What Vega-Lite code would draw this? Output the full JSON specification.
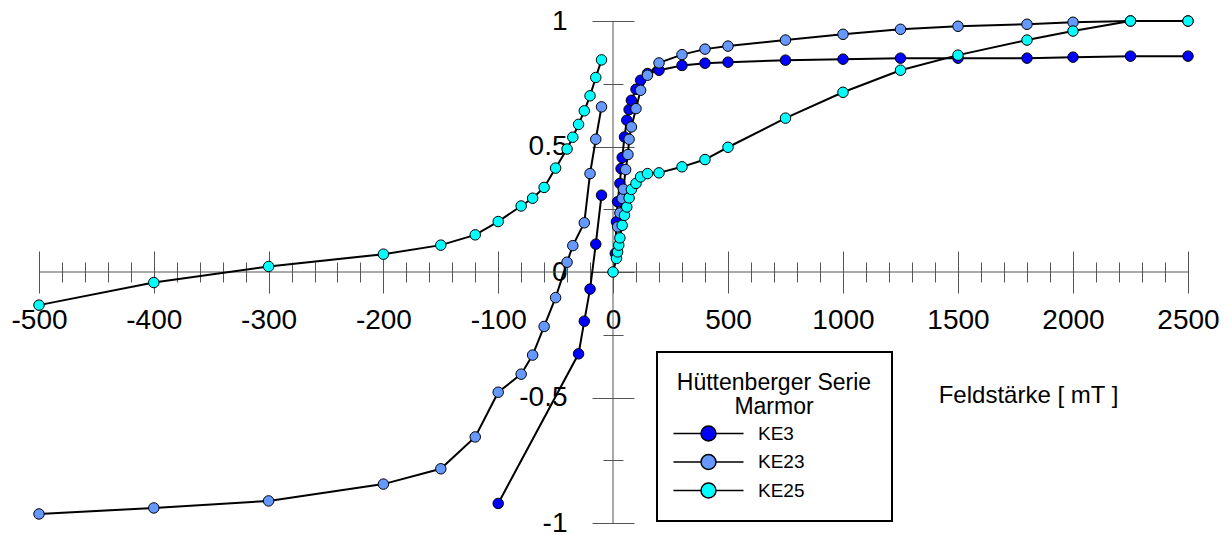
{
  "$schema": "https://vega.github.io/schema/vega-lite/v6.json",
  "width": 1149,
  "height": 502,
  "autosize": {"type": "none"},
  "padding": {"left": 39, "top": 21, "right": 43, "bottom": 12},
  "background": "white",
  "config": {"view": {"stroke": null}, "font": "Liberation Sans", "legend": {"strokeWidth": 2}},
  "data": {"values": [
    {"serie":"KE3","zweig":"neg","B":-10,"M":0.306},
    {"serie":"KE3","zweig":"neg","B":-15,"M":0.111},
    {"serie":"KE3","zweig":"neg","B":-20,"M":-0.068},
    {"serie":"KE3","zweig":"neg","B":-25,"M":-0.196},
    {"serie":"KE3","zweig":"neg","B":-30,"M":-0.326},
    {"serie":"KE3","zweig":"neg","B":-100,"M":-0.922},
    {"serie":"KE3","zweig":"pos","B":10,"M":0.074},
    {"serie":"KE3","zweig":"pos","B":15,"M":0.2},
    {"serie":"KE3","zweig":"pos","B":20,"M":0.28},
    {"serie":"KE3","zweig":"pos","B":30,"M":0.353},
    {"serie":"KE3","zweig":"pos","B":35,"M":0.412},
    {"serie":"KE3","zweig":"pos","B":40,"M":0.456},
    {"serie":"KE3","zweig":"pos","B":50,"M":0.538},
    {"serie":"KE3","zweig":"pos","B":60,"M":0.605},
    {"serie":"KE3","zweig":"pos","B":70,"M":0.647},
    {"serie":"KE3","zweig":"pos","B":80,"M":0.684},
    {"serie":"KE3","zweig":"pos","B":100,"M":0.728},
    {"serie":"KE3","zweig":"pos","B":120,"M":0.764},
    {"serie":"KE3","zweig":"pos","B":150,"M":0.791},
    {"serie":"KE3","zweig":"pos","B":200,"M":0.804},
    {"serie":"KE3","zweig":"pos","B":300,"M":0.823},
    {"serie":"KE3","zweig":"pos","B":400,"M":0.832},
    {"serie":"KE3","zweig":"pos","B":500,"M":0.836},
    {"serie":"KE3","zweig":"pos","B":750,"M":0.844},
    {"serie":"KE3","zweig":"pos","B":1000,"M":0.848},
    {"serie":"KE3","zweig":"pos","B":1250,"M":0.852},
    {"serie":"KE3","zweig":"pos","B":1500,"M":0.852},
    {"serie":"KE3","zweig":"pos","B":1800,"M":0.852},
    {"serie":"KE3","zweig":"pos","B":2000,"M":0.856},
    {"serie":"KE3","zweig":"pos","B":2250,"M":0.86},
    {"serie":"KE3","zweig":"pos","B":2500,"M":0.86},
    {"serie":"KE23","zweig":"neg","B":-10,"M":0.658},
    {"serie":"KE23","zweig":"neg","B":-15,"M":0.529},
    {"serie":"KE23","zweig":"neg","B":-20,"M":0.392},
    {"serie":"KE23","zweig":"neg","B":-25,"M":0.196},
    {"serie":"KE23","zweig":"neg","B":-35,"M":0.105},
    {"serie":"KE23","zweig":"neg","B":-40,"M":0.039},
    {"serie":"KE23","zweig":"neg","B":-50,"M":-0.102},
    {"serie":"KE23","zweig":"neg","B":-60,"M":-0.217},
    {"serie":"KE23","zweig":"neg","B":-70,"M":-0.331},
    {"serie":"KE23","zweig":"neg","B":-80,"M":-0.407},
    {"serie":"KE23","zweig":"neg","B":-100,"M":-0.479},
    {"serie":"KE23","zweig":"neg","B":-120,"M":-0.657},
    {"serie":"KE23","zweig":"neg","B":-150,"M":-0.784},
    {"serie":"KE23","zweig":"neg","B":-200,"M":-0.845},
    {"serie":"KE23","zweig":"neg","B":-300,"M":-0.912},
    {"serie":"KE23","zweig":"neg","B":-400,"M":-0.94},
    {"serie":"KE23","zweig":"neg","B":-500,"M":-0.964},
    {"serie":"KE23","zweig":"pos","B":20,"M":0.18},
    {"serie":"KE23","zweig":"pos","B":30,"M":0.235},
    {"serie":"KE23","zweig":"pos","B":40,"M":0.293},
    {"serie":"KE23","zweig":"pos","B":45,"M":0.33},
    {"serie":"KE23","zweig":"pos","B":55,"M":0.408},
    {"serie":"KE23","zweig":"pos","B":65,"M":0.468},
    {"serie":"KE23","zweig":"pos","B":70,"M":0.529},
    {"serie":"KE23","zweig":"pos","B":80,"M":0.578},
    {"serie":"KE23","zweig":"pos","B":100,"M":0.651},
    {"serie":"KE23","zweig":"pos","B":120,"M":0.724},
    {"serie":"KE23","zweig":"pos","B":150,"M":0.784},
    {"serie":"KE23","zweig":"pos","B":200,"M":0.833},
    {"serie":"KE23","zweig":"pos","B":300,"M":0.866},
    {"serie":"KE23","zweig":"pos","B":400,"M":0.888},
    {"serie":"KE23","zweig":"pos","B":500,"M":0.9},
    {"serie":"KE23","zweig":"pos","B":750,"M":0.924},
    {"serie":"KE23","zweig":"pos","B":1000,"M":0.947},
    {"serie":"KE23","zweig":"pos","B":1250,"M":0.967},
    {"serie":"KE23","zweig":"pos","B":1500,"M":0.979},
    {"serie":"KE23","zweig":"pos","B":1800,"M":0.987},
    {"serie":"KE23","zweig":"pos","B":2000,"M":0.995},
    {"serie":"KE23","zweig":"pos","B":2250,"M":1.0},
    {"serie":"KE23","zweig":"pos","B":2500,"M":1.0},
    {"serie":"KE25","zweig":"neg","B":-10,"M":0.845},
    {"serie":"KE25","zweig":"neg","B":-15,"M":0.775},
    {"serie":"KE25","zweig":"neg","B":-20,"M":0.702},
    {"serie":"KE25","zweig":"neg","B":-25,"M":0.642},
    {"serie":"KE25","zweig":"neg","B":-30,"M":0.588},
    {"serie":"KE25","zweig":"neg","B":-35,"M":0.537},
    {"serie":"KE25","zweig":"neg","B":-40,"M":0.49},
    {"serie":"KE25","zweig":"neg","B":-50,"M":0.414},
    {"serie":"KE25","zweig":"neg","B":-60,"M":0.337},
    {"serie":"KE25","zweig":"neg","B":-70,"M":0.294},
    {"serie":"KE25","zweig":"neg","B":-80,"M":0.263},
    {"serie":"KE25","zweig":"neg","B":-100,"M":0.201},
    {"serie":"KE25","zweig":"neg","B":-120,"M":0.148},
    {"serie":"KE25","zweig":"neg","B":-150,"M":0.107},
    {"serie":"KE25","zweig":"neg","B":-200,"M":0.071},
    {"serie":"KE25","zweig":"neg","B":-300,"M":0.022},
    {"serie":"KE25","zweig":"neg","B":-400,"M":-0.042},
    {"serie":"KE25","zweig":"neg","B":-500,"M":-0.132},
    {"serie":"KE25","zweig":"pos","B":0,"M":0.0},
    {"serie":"KE25","zweig":"pos","B":15,"M":0.054},
    {"serie":"KE25","zweig":"pos","B":20,"M":0.08},
    {"serie":"KE25","zweig":"pos","B":25,"M":0.107},
    {"serie":"KE25","zweig":"pos","B":30,"M":0.136},
    {"serie":"KE25","zweig":"pos","B":40,"M":0.186},
    {"serie":"KE25","zweig":"pos","B":50,"M":0.226},
    {"serie":"KE25","zweig":"pos","B":60,"M":0.259},
    {"serie":"KE25","zweig":"pos","B":70,"M":0.295},
    {"serie":"KE25","zweig":"pos","B":80,"M":0.329},
    {"serie":"KE25","zweig":"pos","B":100,"M":0.353},
    {"serie":"KE25","zweig":"pos","B":120,"M":0.379},
    {"serie":"KE25","zweig":"pos","B":150,"M":0.392},
    {"serie":"KE25","zweig":"pos","B":200,"M":0.395},
    {"serie":"KE25","zweig":"pos","B":300,"M":0.419},
    {"serie":"KE25","zweig":"pos","B":400,"M":0.448},
    {"serie":"KE25","zweig":"pos","B":500,"M":0.497},
    {"serie":"KE25","zweig":"pos","B":750,"M":0.613},
    {"serie":"KE25","zweig":"pos","B":1000,"M":0.716},
    {"serie":"KE25","zweig":"pos","B":1250,"M":0.804},
    {"serie":"KE25","zweig":"pos","B":1500,"M":0.864},
    {"serie":"KE25","zweig":"pos","B":1800,"M":0.924},
    {"serie":"KE25","zweig":"pos","B":2000,"M":0.96},
    {"serie":"KE25","zweig":"pos","B":2250,"M":1.0},
    {"serie":"KE25","zweig":"pos","B":2500,"M":1.0}
  ]},
  "layer": [
    {
      "data": {"values": [{}]},
      "mark": {"type": "rule", "stroke": "#555555", "strokeWidth": 1},
      "encoding": {
        "y": {"datum": 0, "type": "quantitative", "scale": {"domain": [-1, 1], "nice": false, "zero": false}, "axis": null}
      }
    },
    {
      "data": {"values": [{}]},
      "mark": {"type": "rule", "stroke": "#555555", "strokeWidth": 1},
      "encoding": {
        "x": {"datum": 0, "type": "quantitative", "scale": {"type": "linear", "domain": [-500, 0, 2500], "range": [0, 574, 1149], "nice": false, "zero": false}, "axis": null}
      }
    },
    {
      "mark": {"type": "line", "stroke": "black", "strokeWidth": 2, "clip": false},
      "encoding": {
        "x": {"field": "B", "type": "quantitative",
          "scale": {"type": "linear", "domain": [-500, 0, 2500], "range": [0, 574, 1149], "nice": false, "zero": false},
          "axis": {"orient": "bottom", "offset": -272, "values": [-500, -400, -300, -200, -100, 0, 500, 1000, 1500, 2000, 2500],
            "tickSize": 42, "tickColor": "#555555", "tickWidth": 1, "domain": false, "grid": false,
            "labelExpr": "'' + datum.value", "labelFont": "Liberation Sans", "labelFontSize": 28, "labelColor": "black",
            "labelPadding": 27, "labelBaseline": "middle", "labelAlign": "center", "labelFlush": false, "labelOverlap": false, "labelBound": false,
            "title": "Feldstärke [ mT ]", "titleFont": "Liberation Sans", "titleFontSize": 24, "titleFontWeight": "normal", "titleColor": "black",
            "titleX": 989, "titleY": 144, "titleAlign": "center", "titleBaseline": "middle", "titleAngle": 0}},
        "y": {"field": "M", "type": "quantitative",
          "scale": {"domain": [-1, 1], "nice": false, "zero": false},
          "axis": {"orient": "left", "offset": -595, "values": [-1, -0.5, 0, 0.5, 1],
            "tickSize": 42, "tickColor": "#555555", "tickWidth": 1, "domain": false, "grid": false,
            "labelExpr": "'' + datum.value", "labelFont": "Liberation Sans", "labelFontSize": 28, "labelColor": "black",
            "labelPadding": 25, "labelBaseline": "middle", "labelAlign": "right", "labelFlush": false, "labelOverlap": false, "labelBound": false,
            "title": null}},
        "detail": [{"field": "serie"}, {"field": "zweig"}]
      }
    },
    {
      "mark": {"type": "circle", "size": 110, "stroke": "black", "strokeWidth": 1, "opacity": 1, "clip": false},
      "encoding": {
        "x": {"field": "B", "type": "quantitative",
          "scale": {"type": "linear", "domain": [-500, 0, 2500], "range": [0, 574, 1149], "nice": false, "zero": false},
          "axis": {"orient": "bottom", "offset": -261,
            "values": [-480, -460, -440, -420, -380, -360, -340, -320, -280, -260, -240, -220, -180, -160, -140, -120, -80, -60, -40, -20, 100, 200, 300, 400, 600, 700, 800, 900, 1100, 1200, 1300, 1400, 1600, 1700, 1800, 1900, 2100, 2200, 2300, 2400],
            "tickSize": 20, "tickColor": "#555555", "tickWidth": 1, "domain": false, "grid": false, "labels": false, "title": null}},
        "y": {"field": "M", "type": "quantitative",
          "scale": {"domain": [-1, 1], "nice": false, "zero": false},
          "axis": {"orient": "left", "offset": -584, "values": [-0.75, -0.25, 0.25, 0.75],
            "tickSize": 20, "tickColor": "#555555", "tickWidth": 1, "domain": false, "grid": false, "labels": false, "title": null}},
        "fill": {"field": "serie", "type": "nominal",
          "scale": {"domain": ["KE3", "KE23", "KE25"], "range": ["#0000FF", "#6699FF", "#00FFFF"]},
          "legend": {"orient": "none", "legendX": 618, "legendY": 331,
            "title": ["Hüttenberger Serie", "Marmor"], "titleFont": "Liberation Sans", "titleFontSize": 23, "titleFontWeight": "normal",
            "titleColor": "black", "titleAnchor": "middle", "titleAlign": "center", "titleLineHeight": 24, "titlePadding": 5, "titleLimit": 500,
            "labelFont": "Liberation Sans", "labelFontSize": 19, "labelColor": "black", "labelOffset": 40,
            "symbolType": "M-4.67,0H-1M1,0H4.67M-1,0A1,1 0 1,1 1,0A1,1 0 1,1 -1,0Z",
            "symbolSize": 225, "symbolStrokeColor": "black", "symbolStrokeWidth": 1.5, "symbolOpacity": 1, "symbolOffset": -45,
            "rowPadding": 7.5, "padding": 20, "fillColor": "white", "strokeColor": "black"}}
      }
    }
  ],
  "resolve": {"axis": {"x": "independent", "y": "independent"}}
}
